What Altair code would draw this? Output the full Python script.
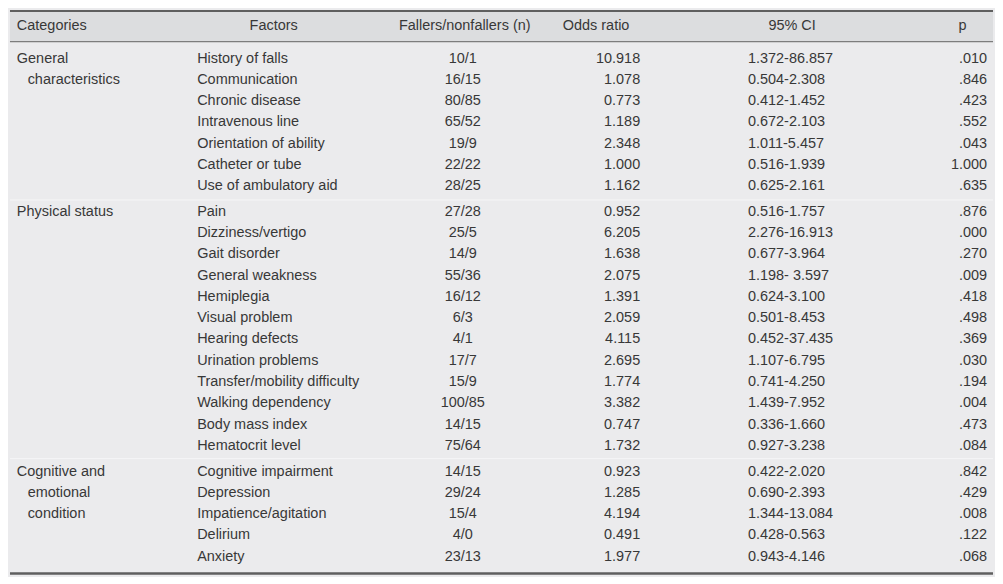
import altair as alt
import pandas as pd

# ---------------- data ----------------
headers = ["Categories", "Factors", "Fallers/nonfallers (n)", "Odds ratio", "95% CI", "p"]

category_lines = [
    ["General", "characteristics"],
    ["Physical status"],
    ["Cognitive and", "emotional", "condition"],
]

factors = [
    "History of falls", "Communication", "Chronic disease", "Intravenous line",
    "Orientation of ability", "Catheter or tube", "Use of ambulatory aid",
    "Pain", "Dizziness/vertigo", "Gait disorder", "General weakness", "Hemiplegia",
    "Visual problem", "Hearing defects", "Urination problems",
    "Transfer/mobility difficulty", "Walking dependency", "Body mass index",
    "Hematocrit level",
    "Cognitive impairment", "Depression", "Impatience/agitation", "Delirium", "Anxiety",
]
group_sizes = [7, 12, 5]

fallers_nonfallers = [
    "10/1", "16/15", "80/85", "65/52", "19/9", "22/22", "28/25",
    "27/28", "25/5", "14/9", "55/36", "16/12", "6/3", "4/1", "17/7", "15/9",
    "100/85", "14/15", "75/64",
    "14/15", "29/24", "15/4", "4/0", "23/13",
]
odds_ratio = [
    "10.918", "1.078", "0.773", "1.189", "2.348", "1.000", "1.162",
    "0.952", "6.205", "1.638", "2.075", "1.391", "2.059", "4.115", "2.695", "1.774",
    "3.382", "0.747", "1.732",
    "0.923", "1.285", "4.194", "0.491", "1.977",
]
ci_95 = [
    "1.372-86.857", "0.504-2.308", "0.412-1.452", "0.672-2.103", "1.011-5.457",
    "0.516-1.939", "0.625-2.161",
    "0.516-1.757", "2.276-16.913", "0.677-3.964", "1.198- 3.597", "0.624-3.100",
    "0.501-8.453", "0.452-37.435", "1.107-6.795", "0.741-4.250", "1.439-7.952",
    "0.336-1.660", "0.927-3.238",
    "0.422-2.020", "0.690-2.393", "1.344-13.084", "0.428-0.563", "0.943-4.146",
]
p_values = [
    ".010", ".846", ".423", ".552", ".043", "1.000", ".635",
    ".876", ".000", ".270", ".009", ".418", ".498", ".369", ".030", ".194",
    ".004", ".473", ".084",
    ".842", ".429", ".008", ".122", ".068",
]

# ---------------- tables built from the arrays ----------------
GAP = 0.21  # extra space between groups, in row units
groups = []
for g, n in enumerate(group_sizes):
    groups += [g] * n
rows = pd.DataFrame({
    "factor": factors,
    "fn": fallers_nonfallers,
    "or": odds_ratio,
    "ci": ci_95,
    "p": p_values,
    "group": groups,
})
rows["pos"] = rows.index + GAP * rows["group"]

cat_recs = []
start = 0
for g, lines in enumerate(category_lines):
    for k, line in enumerate(lines):
        cat_recs.append({"label": line, "pos": start + k + GAP * g, "first": k == 0})
    start += group_sizes[g]
cats = pd.DataFrame(cat_recs)

# ---------------- layout ----------------
W, H = 987, 568
SX, SY = W / 1003, H / 584
FONT = "Liberation Sans"
FS = 14.5
COL = "#383838"

yscale = alt.Scale(domain=[-2.278, 24.326], range=[0, H], nice=False, zero=False)
Y = alt.Y("pos:Q", scale=yscale, axis=None)


def txt(data, field, x, align):
    return alt.Chart(data).mark_text(
        align=align, baseline="middle", font=FONT, fontSize=FS, color=COL
    ).encode(x=alt.value(x * SX), y=Y, text=f"{field}:N")


one = pd.DataFrame({"k": [0]})

header_band = alt.Chart(one).mark_rect(color="#dcdddf").encode(
    x=alt.value(0), x2=alt.value(W), y=alt.value(0), y2=alt.value(32 * SY)
)


def rule(yref, color, sw):
    return alt.Chart(one).mark_rule(color=color, strokeWidth=sw).encode(
        x=alt.value(0), x2=alt.value(W), y=alt.value(yref * SY)
    )


hdr_df = pd.DataFrame({"h": headers})
hdr_pos = [(7, "left"), (269, "center"), (464, "center"), (598, "center"), (798, "center"), (972, "center")]
hdr_layers = []
for i, (xr, al) in enumerate(hdr_pos):
    hdr_layers.append(
        alt.Chart(hdr_df.iloc[[i]]).mark_text(
            align=al, baseline="middle", font=FONT, fontSize=FS, color=COL
        ).encode(x=alt.value(xr * SX), y=alt.value(16.5 * SY), text="h:N")
    )

cat_first = txt(cats[cats["first"]], "label", 7, "left")
cat_rest = txt(cats[~cats["first"]], "label", 18, "left")

chart = alt.layer(
    header_band,
    rule(1, "#5f5f5f", 2),
    rule(32.5, "#7d7d7d", 1.2),
    rule(196, "#f6f6f7", 1),
    rule(463, "#f6f6f7", 1),
    rule(581.5, "#5f5f5f", 2.5),
    *hdr_layers,
    cat_first,
    cat_rest,
    txt(rows, "factor", 191, "left"),
    txt(rows, "fn", 462, "center"),
    txt(rows, "or", 643, "right"),
    txt(rows, "ci", 753, "left"),
    txt(rows, "p", 997, "right"),
).properties(
    width=W, height=H, padding=0, background="#ebebed"
).configure_view(stroke=None)

chart.save("out.html", embed_options={"renderer": "svg", "actions": False})
